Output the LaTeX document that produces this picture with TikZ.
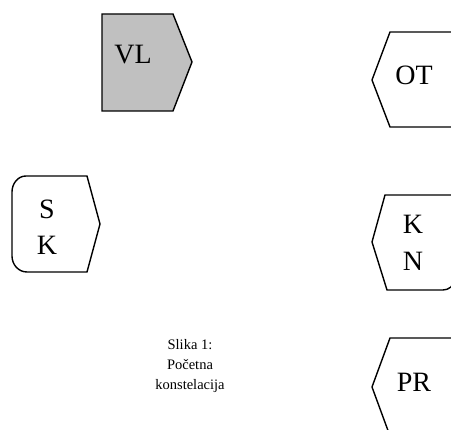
\documentclass[tikz,border=0pt]{standalone}
\usepackage{fontspec}
\setmainfont{Liberation Serif}
\definecolor{boxgray}{RGB}{192,192,192}
\begin{document}
\begin{tikzpicture}[x=1pt,y=-1pt,
  shapeline/.style={draw=black,line width=1.4pt,line join=miter},
  lbl/.style={font=\fontsize{28}{36}\selectfont,inner sep=0pt,align=center},
  captext/.style={font=\fontsize{14.5}{20}\selectfont,inner sep=0pt,align=center}]
\useasboundingbox (0,0) rectangle (451,430);
\clip (0,0) rectangle (451,430);
% VL
\path[shapeline,fill=boxgray] (102,14) -- (173,14) -- (192,62) -- (173,111) -- (102,111) -- cycle;
\node[lbl] (vl) at (133,55) {VL};
% OT
\path[shapeline] (470,32) -- (390,32) -- (372,80) -- (390,127) -- (470,127);
\node[lbl] (ot) at (414,75) {OT};
% SK
\path[shapeline] (87,176) -- (100,224) -- (87,272) -- (27,272)
  to[out=180,in=270] (12,256) -- (12,192) to[out=90,in=180] (26,176) -- cycle;
\node[lbl] (s1) at (47,209) {S};
\node[lbl] (k1) at (47,245) {K};
% KN
\path[shapeline] (470,195) -- (385,195) -- (372,242) -- (387,290) -- (443,290)
  to[out=0,in=-90] (454,280) -- (454,200);
\node[lbl] (k2) at (413,224) {K};
\node[lbl] (n2) at (413,261) {N};
% PR
\path[shapeline] (470,338) -- (390,338) -- (372,387) -- (390,436);
\node[lbl] (pr) at (414,382) {PR};
% caption
\node[captext] (caption) at (190,366) {Slika 1:\\Početna\\konstelacija};
\end{tikzpicture}
\end{document}
